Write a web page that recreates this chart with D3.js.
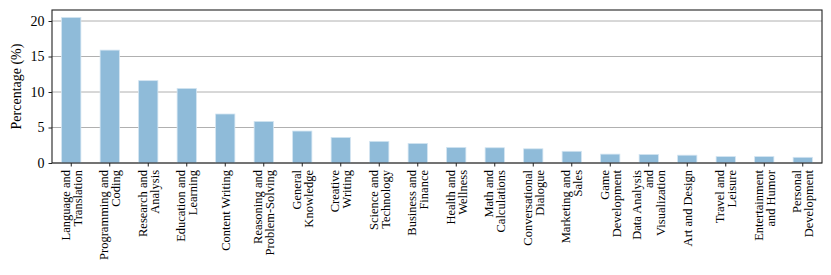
<!DOCTYPE html>
<html>
<head>
<meta charset="utf-8">
<script src="https://cdn.jsdelivr.net/npm/d3@7"></script>
<style>
  body { margin: 0; background: #fff; }
</style>
</head>
<body>
<svg width="831" height="275"></svg>
<script>
var categories = [
  "Language and\nTranslation", "Programming and\nCoding", "Research and\nAnalysis",
  "Education and\nLearning", "Content Writing", "Reasoning and\nProblem-Solving",
  "General\nKnowledge", "Creative\nWriting", "Science and\nTechnology",
  "Business and\nFinance", "Health and\nWellness", "Math and\nCalculations",
  "Conversational\nDialogue", "Marketing and\nSales", "Game\nDevelopment",
  "Data Analysis\nand\nVisualization", "Art and Design", "Travel and\nLeisure",
  "Entertainment\nand Humor", "Personal\nDevelopment"
];
var percentages = [20.5, 15.9, 11.6, 10.5, 6.9, 5.85, 4.5, 3.6, 3.05, 2.75,
  2.2, 2.15, 2.0, 1.65, 1.25, 1.2, 1.1, 0.9, 0.9, 0.8];
var yTicks = [0, 5, 10, 15, 20];

var FONT = "'Liberation Serif', 'DejaVu Serif', serif";

var svg = d3.select("svg"),
  margin = {top: 10, right: 9, bottom: 112, left: 52},
  width = +svg.attr("width") - margin.left - margin.right,
  height = +svg.attr("height") - margin.top - margin.bottom;

var g = svg.append("g")
  .attr("transform", "translate(" + margin.left + "," + margin.top + ")");

var x = d3.scaleBand()
  .domain(d3.range(categories.length))
  .range([0, width])
  .paddingInner(0.5)
  .paddingOuter(0.25);

var y = d3.scaleLinear()
  .domain([0, 21.55])
  .range([height, 0]);

// grid
g.append("g")
  .selectAll("line")
  .data(yTicks)
  .enter().append("line")
  .attr("x1", 0)
  .attr("x2", width)
  .attr("y1", function (d) { return y(d); })
  .attr("y2", function (d) { return y(d); })
  .attr("stroke", "#b0b0b0")
  .attr("stroke-width", 1);

// bars
g.append("g")
  .selectAll("rect")
  .data(percentages)
  .enter().append("rect")
  .attr("x", function (d, i) { return x(i); })
  .attr("width", x.bandwidth())
  .attr("y", function (d) { return y(d); })
  .attr("height", function (d) { return height - y(d); })
  .attr("fill", "#8fbbd9")
  .attr("stroke", "#d2e4f1")
  .attr("stroke-width", 0.8);

// frame
g.append("rect")
  .attr("width", width)
  .attr("height", height)
  .attr("fill", "none")
  .attr("stroke", "#222")
  .attr("stroke-width", 1.1);

// y axis
var yAxis = g.append("g")
  .attr("font-family", FONT)
  .attr("font-size", 14)
  .call(d3.axisLeft(y).tickValues(yTicks).tickSize(3.5).tickPadding(4));
yAxis.attr("font-family", FONT).attr("font-size", 14);
yAxis.select(".domain").remove();
yAxis.selectAll("line").attr("stroke", "#222");
yAxis.selectAll("text").attr("fill", "#000");

// x axis
var xAxis = g.append("g")
  .attr("transform", "translate(0," + height + ")")
  .call(d3.axisBottom(x).tickSize(3.5).tickFormat(""));
xAxis.select(".domain").remove();
xAxis.selectAll("line").attr("stroke", "#222");

var lh = 12;
xAxis.selectAll(".tick").each(function (d) {
  var lines = categories[d].split("\n");
  var t = d3.select(this).append("text")
    .attr("transform", "translate(0,7) rotate(-90)")
    .attr("text-anchor", "end")
    .attr("font-family", FONT)
    .attr("font-size", 12.5)
    .attr("fill", "#000");
  lines.forEach(function (s, k) {
    t.append("tspan")
      .attr("x", 0)
      .attr("y", (k - (lines.length - 1) / 2) * lh)
      .attr("dy", "0.35em")
      .text(s);
  });
});

// y label
svg.append("text")
  .attr("transform", "translate(16," + (margin.top + height / 2) + ") rotate(-90)")
  .attr("text-anchor", "middle")
  .attr("dy", "0.35em")
  .attr("font-family", FONT)
  .attr("font-size", 14)
  .text("Percentage (%)");
</script>
</body>
</html>
